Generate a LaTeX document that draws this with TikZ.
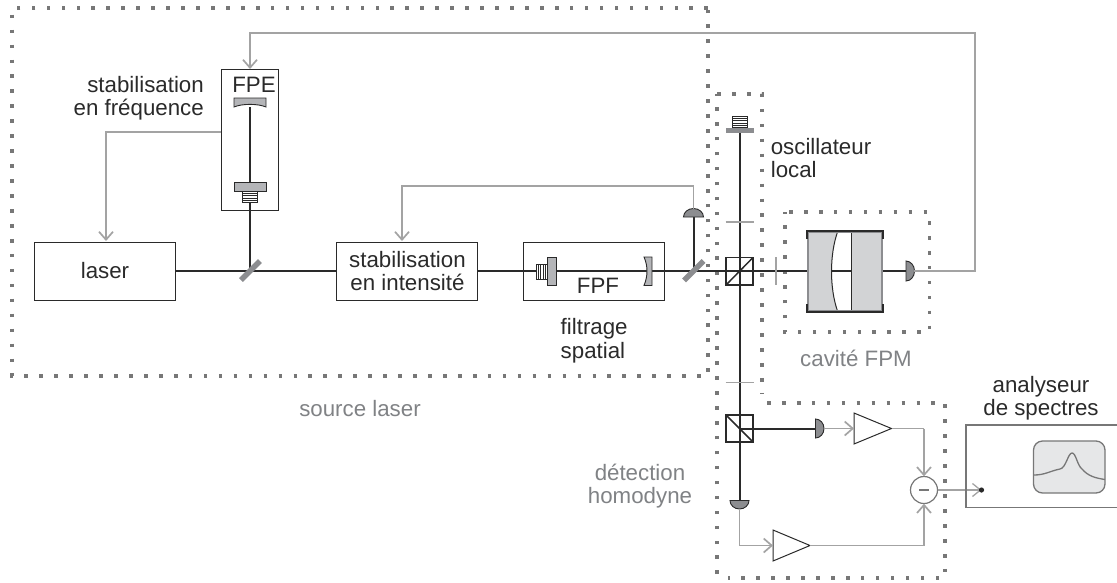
\documentclass[tikz,border=0pt]{standalone}
\usepackage{fontspec}
\setmainfont{Liberation Sans}
\usetikzlibrary{arrows.meta}
\definecolor{beamc}{HTML}{2A2A2A}
\definecolor{sigc}{HTML}{A3A3A3}
\definecolor{dotc}{HTML}{777777}
\definecolor{optc}{HTML}{B4B5B8}
\definecolor{detc}{HTML}{8C8D90}
\definecolor{cavc}{HTML}{D2D3D5}
\definecolor{lblc}{HTML}{808285}
\tikzset{
 boxn/.style={draw=beamc,line width=1pt,inner sep=0pt,align=center,font=\fontsize{22.3}{24}\selectfont,text=beamc},
 txt/.style={inner sep=0pt,align=center,font=\fontsize{22.3}{24}\selectfont,text=beamc,anchor=center},
 gtxt/.style={txt,text=lblc},
 beam/.style={draw=beamc,line width=2pt},
 sig/.style={draw=sigc,line width=1.8pt},
 sigar/.style={sig,-{Straight Barb[length=8pt,width=14pt,line width=1.7pt]}},
 dotline/.style={draw=dotc,line width=3.6pt,dash pattern=on 3.6pt off 11.35pt},
 optic/.style={fill=optc,draw=beamc,line width=0.9pt},
 stripes/.style={draw=beamc,line width=0.9pt,fill=white},
 det/.style={fill=detc,draw=beamc,line width=0.9pt},
 tick/.style={draw=sigc,line width=1.5pt},
 amp/.style={draw=beamc,line width=1pt,fill=white},
 bs/.style={draw=beamc,line width=1.5pt,fill=none},
 mirr/.style={draw=detc,line width=5.4pt}
}
\begin{document}
\begin{tikzpicture}[x=1pt,y=-1pt]
\useasboundingbox (0,0) rectangle (1117,582);
% dotted enclosures
\draw[dotline] (708,8) -- (12,8) -- (12,376) -- (708,376) -- cycle;
\draw[dotline] (717,94) -- (762,94) -- (762,393);
\draw[dotline] (717,574) -- (717,94);
\draw[dotline] (767,403) -- (945,403) -- (945,578) -- (728,578);
\draw[dotline] (789,212) -- (929.5,212) -- (929.5,332) -- (785,332) -- (785,212);
% coordinates
\coordinate (m1) at (250,271);
\coordinate (m2) at (693.5,271);
\coordinate (bs1) at (739.5,271);
\coordinate (bs2) at (739.5,428.5);
\coordinate (fpeT) at (250,107);
\coordinate (lo) at (739.5,132);
\coordinate (cavL) at (808,271);
\coordinate (cavR) at (882,271);
\coordinate (d1) at (693.5,217);
\coordinate (d1t) at (693.5,209);
\coordinate (d2) at (906,271);
\coordinate (d2t) at (914,271);
\coordinate (d3) at (815,428.5);
\coordinate (d3t) at (824,428.5);
\coordinate (d4) at (739.5,500.5);
\coordinate (d4t) at (739.5,509.5);
\coordinate (a1i) at (854,428.5);
\coordinate (a1o) at (891.5,428.5);
\coordinate (a2i) at (773,545.5);
\coordinate (a2o) at (810,545.5);
\coordinate (an) at (981.5,490);
% boxes
\node[boxn,minimum width=141pt,minimum height=58pt] (laser) at (105,271) {laser};
\node[boxn,minimum width=141pt,minimum height=58pt] (stab) at (406.5,271) {};
\node[txt] (stabt) at (407.5,271) {stabilisation\\[-0.5pt]en intensité};
\node[boxn,minimum width=141pt,minimum height=58pt] (fpf) at (594,271) {};
\node[boxn,minimum width=57pt,minimum height=141pt] (fpe) at (250,140) {};
\node[draw=none,minimum size=27pt,inner sep=0pt] (sub) at (924,490) {};
% beams
\draw[beam] (laser.east) -- (stab.west);
\draw[beam] (stab.east) -- (fpf.west);
\draw[beam] (fpf.west) -- (fpf.east);
\draw[beam] (fpf.east) -- (m2);
\draw[beam] (m2) -- (bs1) -- (cavL);
\draw[beam] (cavR) -- (d2);
\draw[beam] (m1) -- (fpeT);
\draw[beam] (m2) -- (d1);
\draw[beam] (lo) -- (bs1) -- (bs2) -- (d4);
\draw[beam] (bs2) -- (d3);
% mirrors
\draw[mirr] (241,280) -- (260,261);
\draw[mirr] (684,280.5) -- (703.5,261);
% FPE
\node[txt] (fpet) at (254,85) {FPE};
\draw[optic] (234,98) -- (266,98) -- (266,107) .. controls (258,103.5) and (242,103.5) .. (234,107) -- cycle;
\draw[optic] (234,182) rectangle (266,191);
\draw[stripes] (242.5,191) rectangle (257.5,202.5);
\foreach \y in {193.3,195.6,197.9,200.2} \draw[beamc,line width=0.6pt] (242.5,\y) -- (257.5,\y);
% FPF
\node[txt] (fpft) at (598,286) {FPF};
\draw[stripes] (536.5,264) rectangle (547,279);
\foreach \x in {538.6,540.7,542.8,544.9} \draw[beamc,line width=0.6pt] (\x,264) -- (\x,279);
\draw[optic] (547.5,257) rectangle (556,285.5);
\draw[optic] (644,257) -- (652,257) -- (652,285.5) -- (644,285.5) .. controls (648,276) and (648,266) .. (644,257) -- cycle;
% local oscillator mirror
\draw[stripes] (732,116) rectangle (747,127.5);
\foreach \y in {118.3,120.6,122.9,125.2} \draw[beamc,line width=0.6pt] (732,\y) -- (747,\y);
\fill[detc] (725.5,127.5) rectangle (753.5,132.5);
% ticks
\draw[tick] (725.5,222) -- (753.5,222);
\draw[tick] (725.5,382.5) -- (753.5,382.5);
\draw[tick] (776,257) -- (776,285);
% beam splitters
\draw[bs] (726,257.5) rectangle (753,285);
\draw[bs] (726,285) -- (753,257.5);
\draw[bs] (726,415) rectangle (753,442);
\draw[bs] (726,415) -- (753,442);
% cavity
\fill[cavc] (808,232) -- (837.5,232) .. controls (829.5,255) and (829.5,288) .. (837.5,311) -- (808,311) -- cycle;
\fill[cavc] (852,232) rectangle (882,311);
\draw[beamc,line width=1pt] (837.5,232) .. controls (829.5,255) and (829.5,288) .. (837.5,311);
\draw[beamc,line width=1pt] (851.5,232) -- (851.5,311);
\draw[detc,line width=1.2pt] (808,232) -- (808,311) -- (882,311) -- (882,232) -- cycle;
\draw[beam] (832,271) -- (851.5,271);
\draw[beamc,line width=1.5pt] (807,239) -- (807,231) -- (883,231) -- (883,239);
\draw[beamc,line width=1.5pt] (807,304) -- (807,312) -- (883,312) -- (883,304);
% detectors
\draw[det] (683.5,217) arc[start angle=180,end angle=360,x radius=10,y radius=8.5] -- cycle;
\draw[det] (906,261) arc[start angle=-90,end angle=90,x radius=8.5,y radius=10] -- cycle;
\draw[det] (815.5,419) arc[start angle=-90,end angle=90,x radius=8.5,y radius=9.5] -- cycle;
\draw[det] (730,500.5) arc[start angle=180,end angle=360,x radius=9.5,y radius=-8.5] -- cycle;
% amplifiers
\draw[amp] (a1i) -- (854,413) -- (a1o) -- (854,444) -- cycle;
\draw[amp] (a2i) -- (773,530) -- (a2o) -- (773,561) -- cycle;
% subtractor
\draw[draw=dotc,line width=1.2pt,fill=white] (sub) circle[radius=13.5];
\draw[dotc,line width=1.8pt] (919,490) -- (929,490);
% signal lines
\draw[sigar] (d1t) -- (693.5,186) -- (402,186) -- (402,241);
\draw[sigar] (fpe.west |- 0,132) -- (106,132) -- (106,241);
\draw[sigar] (d2t) -- (975,271) -- (975,33) -- (250,33) -- (fpe.north);
\draw[sigar] (d3t) -- (a1i);
\draw[sig] (a1o) -- (924,428.5);
\draw[sigar] (924,428.5) -- (sub.north);
\draw[sigar] (d4t) -- (739.5,545.5) -- (a2i);
\draw[sig] (a2o) -- (924,545.5);
\draw[sigar] (924,545.5) -- (sub.south);
\draw[draw=sigc,line width=1.4pt,-{Straight Barb[length=8pt,width=13pt,line width=1.3pt]}] (sub.east) -- (an);
% analyser
\draw[draw=dotc,line width=1.5pt] (1117,425) -- (966,425) -- (966,507.5) -- (1117,507.5);
\fill[beamc] (an) circle[radius=2.6];
\draw[draw=dotc,line width=1.3pt,fill=cavc!55,rounded corners=9pt] (1033.5,441) rectangle (1105,493);
\draw[draw=dotc,line width=1.3pt] (1034,475) .. controls (1045,475) and (1050,471) .. (1060,469) .. controls (1066,468) and (1068,453) .. (1072,453) .. controls (1076,453) and (1077,465) .. (1082,469) .. controls (1088,476) and (1095,478) .. (1105,479.5);
% labels
\node[txt,align=right,anchor=east] (l1) at (204,98) {stabilisation\\[-0.5pt]en fréquence};
\node[txt,align=left,anchor=west] (l2) at (560.5,341) {filtrage\\spatial};
\node[txt,align=left] (l3) at (821,158) {oscillateur\\[-0.5pt]local};
\node[txt] (l4) at (1041,398) {analyseur\\[-0.5pt]de spectres};
\node[gtxt] (l5) at (360,409) {source laser};
\node[gtxt] (l6) at (856,358) {cavité FPM};
\node[gtxt] (l7) at (640,486) {détection\\[-0.5pt]homodyne};
\end{tikzpicture}
\end{document}
